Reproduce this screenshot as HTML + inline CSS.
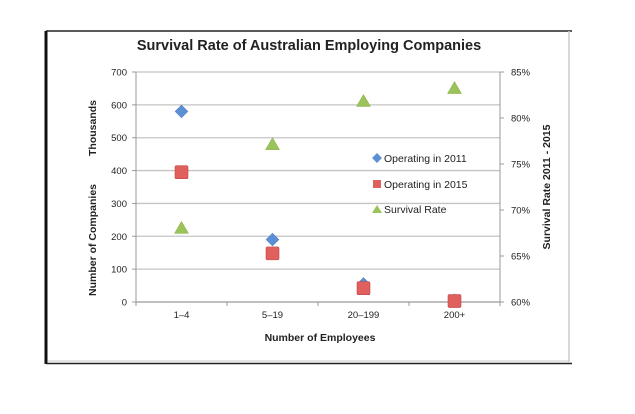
<!DOCTYPE html>
<html><head><meta charset="utf-8"><style>
body{margin:0;background:#fff;}
svg{display:block;font-family:"Liberation Sans",sans-serif;}
</style></head><body>
<svg id="chart" width="635" height="414" viewBox="0 0 635 414">
<rect x="0" y="0" width="635" height="414" fill="#fff"/>
<g>
<line x1="46" y1="31" x2="572" y2="31" stroke="#222" stroke-width="1.5"/>
<line x1="569" y1="31" x2="569" y2="362" stroke="#ccc" stroke-width="1.5"/>
<line x1="48" y1="361" x2="569" y2="361" stroke="#ccc" stroke-width="1"/>
<line x1="46" y1="31" x2="46" y2="364" stroke="#111" stroke-width="3"/>
<line x1="46" y1="363.5" x2="572" y2="363.5" stroke="#222" stroke-width="1.5"/>
</g>
<text x="309" y="50" text-anchor="middle" font-size="14.5" font-weight="bold" fill="#222">Survival Rate of Australian Employing Companies</text>
<g id="grid"></g><g id="axes"></g><g id="marks"></g>
<text x="320" y="341" text-anchor="middle" font-size="10.5" font-weight="bold" fill="#222">Number of Employees</text>
<text transform="translate(96,240) rotate(-90)" text-anchor="middle" font-size="10.5" font-weight="bold" fill="#222">Number of Companies</text>
<text transform="translate(96,128) rotate(-90)" text-anchor="middle" font-size="10.5" font-weight="bold" fill="#222">Thousands</text>
<text transform="translate(550,187) rotate(-90)" text-anchor="middle" font-size="10.5" font-weight="bold" fill="#222">Survival Rate 2011 - 2015</text>
<g font-size="10.5" fill="#222">
<g><rect x="373.5" y="154.5" width="7" height="7" transform="rotate(45 377 158)" fill="#5b8fd6"/><text x="384" y="162">Operating in 2011</text></g>
<g><rect x="373" y="180" width="8" height="8" fill="#e0605e"/><text x="384" y="188">Operating in 2015</text></g>
<g><polygon points="377,205 382,213 372,213" fill="#9bc35a"/><text x="384" y="213">Survival Rate</text></g>
</g>
</svg>
<script>
const categories=["1–4","5–19","20–199","200+"];
const op2011=[580,190,55,5];
const op2015=[395,148,42,3];
const survival=[68.0,77.1,81.8,83.2];
const leftTicks=[0,100,200,300,400,500,600,700];
const rightTicks=[60,65,70,75,80,85];
const NS="http://www.w3.org/2000/svg";
const L=136,R=500,T=72,B=302;
function x(i){return L+(i+0.5)*(R-L)/categories.length;}
function y(v){return B-(v-0)/(700-0)*(B-T);}
function y2(v){return B-(v-60)/(85-60)*(B-T);}
function mk(tag,attrs,parent){const e=document.createElementNS(NS,tag);for(const k in attrs)e.setAttribute(k,attrs[k]);parent.appendChild(e);return e;}
const grid=document.getElementById('grid'),axes=document.getElementById('axes'),marks=document.getElementById('marks');
leftTicks.forEach(t=>{
 const g=mk('line',{x1:L,x2:R,y1:y(t),y2:y(t),stroke:t===0?'#999':'#c4c4c4','stroke-width':1.3},grid);
 
 
 mk('line',{x1:L-4,x2:L,y1:y(t),y2:y(t),stroke:'#999'},axes);
 const tx=mk('text',{x:L-9,y:y(t)+3.5,'text-anchor':'end','font-size':9.5,fill:'#222'},axes);
 tx.textContent=t;
 
 
});
mk('line',{x1:L,x2:L,y1:T,y2:B,stroke:'#999'},axes);
mk('line',{x1:R,x2:R,y1:T,y2:B,stroke:'#999'},axes);
rightTicks.forEach(t=>{
 mk('line',{x1:R,x2:R+4,y1:y2(t),y2:y2(t),stroke:'#999'},axes);
 const tx=mk('text',{x:R+11,y:y2(t)+3.5,'font-size':9.5,fill:'#222'},axes);
 tx.textContent=t+'%';
 
 
});
categories.forEach((c,i)=>{
 const bx=L+i*(R-L)/categories.length;
 mk('line',{x1:bx,x2:bx,y1:B,y2:B+4,stroke:'#999'},axes);
 const tx=mk('text',{x:x(i),y:318,'text-anchor':'middle','font-size':9.5,fill:'#222'},axes);
 tx.textContent=c;
 
 
});
mk('line',{x1:R,x2:R,y1:B,y2:B+4,stroke:'#999'},axes);
op2011.forEach((v,i)=>{
 const cx=x(i),cy=y(v);
 const d=mk('rect',{x:cx-4.5,y:cy-4.5,width:9,height:9,transform:`rotate(45 ${cx} ${cy})`,fill:'#5b8fd6',stroke:'#4a78b8','stroke-width':0.5},marks);
 
 
});
op2015.forEach((v,i)=>{
 const cx=x(i),cy=y(v);
 const s=mk('rect',{x:cx-6.5,y:cy-6.5,width:13,height:13,rx:1.5,fill:'#e0605e',stroke:'#c04a48','stroke-width':0.6},marks);
 
 
});
survival.forEach((v,i)=>{
 const cx=x(i),cy=y2(v);
 const p=mk('polygon',{points:`${cx},${cy-7} ${cx+7},${cy+5} ${cx-7},${cy+5}`,fill:'#9bc35a',stroke:'#86ad48','stroke-width':0.5},marks);
 
 
});
</script>
</body></html>
